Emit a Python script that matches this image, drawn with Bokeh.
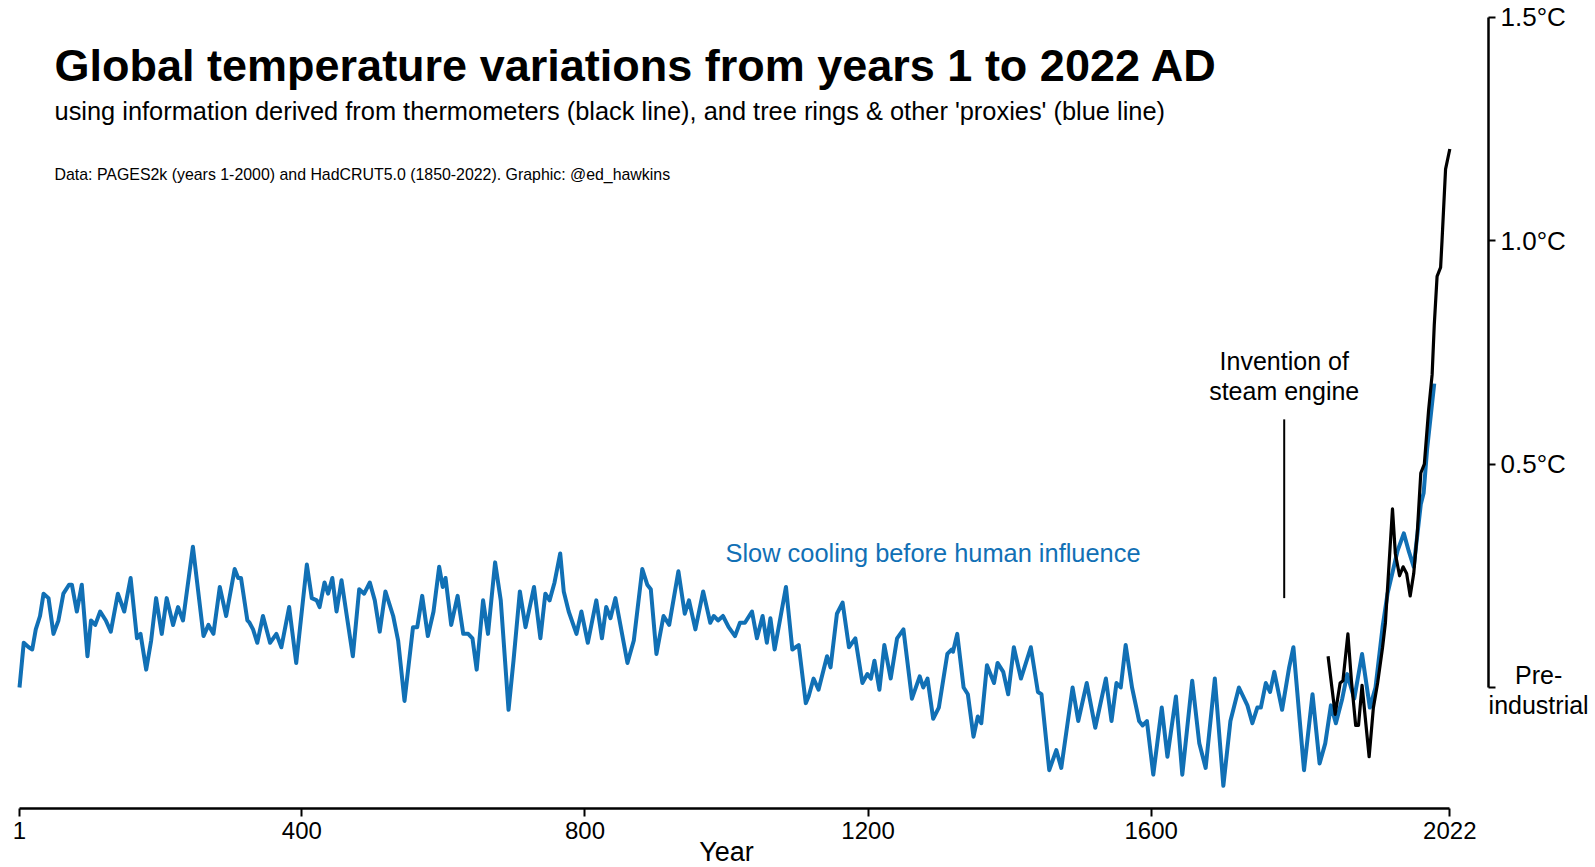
from bokeh.plotting import figure
from bokeh.models import Range1d, FixedTicker, Label, ColumnDataSource
from bokeh.embed import file_html
from bokeh.resources import INLINE

# ---------------- data ----------------
proxy_years = [1, 7, 14, 19, 24, 30, 35, 42, 49, 56, 63, 71, 75, 82, 89, 97, 102, 108, 115, 123,
               130, 140, 149, 158, 167, 172, 180, 187, 194, 202, 209, 218, 225, 232, 246, 261, 268,
               275, 284, 293, 305, 310, 314, 323, 326, 331, 337, 345, 355, 364, 371, 382, 392, 407,
               414, 421, 425, 432, 437, 443, 449, 456, 463, 472, 481, 488, 496, 503, 510, 518, 529,
               536, 545, 557, 563, 570, 578, 586, 594, 599, 603, 611, 620, 628, 635, 641, 647, 656,
               663, 673, 681, 692, 699, 708, 716, 728, 737, 744, 750, 757, 765, 770, 777, 788, 795,
               804, 816, 824, 830, 836, 843, 860, 869, 881, 888, 893, 901, 911, 919, 932, 941, 947,
               956, 967, 977, 982, 988, 995, 1003, 1012, 1019, 1026, 1036, 1043, 1051, 1057, 1062,
               1068, 1084, 1093, 1102, 1112, 1116, 1123, 1130, 1142, 1147, 1156, 1164, 1173, 1182,
               1192, 1199, 1204, 1209, 1216, 1223, 1232, 1241, 1250, 1262, 1273, 1278, 1284, 1292,
               1300, 1312, 1318, 1320, 1326, 1335, 1341, 1349, 1355, 1360, 1368, 1378, 1383, 1391,
               1398, 1406, 1416, 1430, 1440, 1445, 1456, 1466, 1473, 1489, 1497, 1509, 1521, 1536,
               1544, 1551, 1557, 1564, 1573, 1583, 1588, 1594, 1603, 1615, 1623, 1635, 1644, 1658,
               1668, 1677, 1690, 1702, 1712, 1724, 1736, 1743, 1750, 1755, 1762, 1768, 1774, 1785,
               1795, 1801, 1816, 1828, 1838, 1846, 1854, 1861, 1870, 1877, 1887, 1898, 1909, 1917,
               1927, 1934, 1948, 1957, 1964, 1971, 1981, 1985, 1990, 2000]
proxy_temps = [0.00, 0.10, 0.09, 0.085, 0.13, 0.16, 0.21, 0.20, 0.12, 0.15, 0.21, 0.23, 0.23, 0.17,
               0.23, 0.07, 0.15, 0.14, 0.17, 0.15, 0.125, 0.21, 0.17, 0.245, 0.11, 0.12, 0.04, 0.105,
               0.20, 0.12, 0.20, 0.14, 0.18, 0.15, 0.315, 0.115, 0.14, 0.12, 0.225, 0.16, 0.265,
               0.245, 0.245, 0.15, 0.145, 0.13, 0.10, 0.16, 0.10, 0.12, 0.09, 0.18, 0.055, 0.275,
               0.20, 0.195, 0.18, 0.235, 0.21, 0.245, 0.17, 0.24, 0.165, 0.07, 0.22, 0.21, 0.235,
               0.195, 0.125, 0.215, 0.16, 0.105, -0.03, 0.135, 0.135, 0.205, 0.115, 0.17, 0.27,
               0.225, 0.245, 0.14, 0.205, 0.12, 0.12, 0.11, 0.04, 0.195, 0.12, 0.28, 0.195, -0.05,
               0.06, 0.215, 0.135, 0.225, 0.11, 0.21, 0.195, 0.235, 0.30, 0.215, 0.17, 0.12, 0.17,
               0.10, 0.195, 0.11, 0.18, 0.155, 0.20, 0.055, 0.105, 0.265, 0.23, 0.22, 0.075, 0.16,
               0.14, 0.26, 0.165, 0.195, 0.13, 0.215, 0.145, 0.16, 0.15, 0.16, 0.135, 0.115, 0.145,
               0.145, 0.17, 0.11, 0.16, 0.10, 0.155, 0.085, 0.225, 0.085, 0.095, -0.035, -0.02,
               0.02, -0.005, 0.07, 0.045, 0.165, 0.19, 0.09, 0.11, 0.01, 0.03, 0.02, 0.06, -0.005,
               0.095, 0.02, 0.11, 0.13, -0.025, 0.025, 0.00, 0.02, -0.07, -0.045, 0.075, 0.085,
               0.08, 0.12, 0.00, -0.015, -0.11, -0.065, -0.08, 0.05, 0.01, 0.055, 0.035, -0.015,
               0.09, 0.02, 0.09, -0.01, -0.015, -0.185, -0.14, -0.18, 0.00, -0.075, 0.01, -0.09,
               0.02, -0.075, 0.01, 0.00, 0.095, 0.00, -0.075, -0.085, -0.075, -0.195, -0.045,
               -0.155, -0.02, -0.195, 0.015, -0.125, -0.18, 0.02, -0.22, -0.075, 0.00, -0.04, -0.08,
               -0.045, -0.045, 0.01, -0.01, 0.035, -0.05, 0.045, 0.09, -0.185, -0.015, -0.17,
               -0.125, -0.04, -0.08, -0.025, 0.03, -0.025, 0.075, -0.045, 0.00, 0.135, 0.21, 0.305,
               0.345, 0.305, 0.27, 0.41, 0.435, 0.535, 0.68]

thermo_years = [1850, 1860, 1867, 1871, 1878, 1883, 1889, 1893, 1898, 1908, 1914, 1920, 1927, 1931,
                1941, 1945, 1951, 1956, 1961, 1966, 1971, 1976, 1981, 1986, 1992, 1997, 2000, 2004,
                2009, 2011, 2016, 2022]
thermo_temps = [0.07, -0.06, 0.01, 0.015, 0.12, 0.015, -0.085, -0.085, 0.005, -0.155, -0.045, 0.01,
                0.09, 0.145, 0.40, 0.30, 0.25, 0.27, 0.255, 0.205, 0.255, 0.345, 0.48, 0.50, 0.62,
                0.70, 0.81, 0.92, 0.94, 1.00, 1.16, 1.205]

x_ticks = [1, 400, 800, 1200, 1600, 2022]
y_ticks = [0, 0.5, 1.0, 1.5]
y_tick_labels = {0: "", 0.5: "0.5\u00b0C", 1: "1.0\u00b0C", 1.5: "1.5\u00b0C"}
steam_year = 1788

BLUE = "#1170b5"
FONT = "Liberation Sans"

# ---------------- figure ----------------
# the frame fills the whole canvas; the axes are pinned with fixed_location
p = figure(width=1591, height=867, output_backend="svg", toolbar_location=None,
           x_range=Range1d(-25.85, 2222.2), y_range=Range1d(-0.4028, 1.5373),
           x_axis_location="below", y_axis_location="right",
           min_border_left=0, min_border_top=0, min_border_right=0, min_border_bottom=0)
p.outline_line_color = None
p.grid.visible = False
p.background_fill_color = "white"
p.border_fill_color = "white"

# x axis
xa = p.xaxis[0]
xa.fixed_location = -0.2708
xa.ticker = FixedTicker(ticks=x_ticks)
xa.bounds = (1, 2022)
xa.axis_line_width = 2.5
xa.axis_line_color = "black"
xa.major_tick_out = 8
xa.major_tick_in = 0
xa.major_tick_line_width = 2
xa.minor_tick_line_color = None
xa.major_label_text_font = FONT
xa.major_label_text_font_size = "24px"
xa.major_label_text_color = "black"
xa.major_label_standoff = 5

# y axis
ya = p.yaxis[0]
ya.fixed_location = 2076.7
ya.ticker = FixedTicker(ticks=y_ticks)
ya.bounds = (0, 1.5)
ya.axis_line_width = 2.5
ya.axis_line_color = "black"
ya.major_tick_out = 7
ya.major_tick_in = 0
ya.major_tick_line_width = 2
ya.minor_tick_line_color = None
ya.major_label_overrides = y_tick_labels
ya.major_label_text_font = FONT
ya.major_label_text_font_size = "26px"
ya.major_label_text_color = "black"
ya.major_label_standoff = 5

# lines
proxy_src = ColumnDataSource(dict(x=proxy_years, y=proxy_temps))
thermo_src = ColumnDataSource(dict(x=thermo_years, y=thermo_temps))
p.line("x", "y", source=proxy_src, line_color=BLUE, line_width=4, line_join="round")
p.line("x", "y", source=thermo_src, line_color="black", line_width=3.2, line_join="round")

# steam engine marker
p.segment(x0=[steam_year], y0=[0.20], x1=[steam_year], y1=[0.60], line_color="black", line_width=2)

def add_label(x, y, text, size, color="black", style="normal", align="left"):
    p.add_layout(Label(x=x, y=y, text=text, text_font=FONT, text_font_size=size,
                       text_color=color, text_font_style=style, text_align=align,
                       text_baseline="alphabetic"))

add_label(50.5, 1.392, "Global temperature variations from years 1 to 2022 AD", "45px", style="bold")
add_label(50.5, 1.289, "using information derived from thermometers (black line), and tree rings & other 'proxies' (blue line)", "25.4px")
add_label(50.5, 1.149, "Data: PAGES2k (years 1-2000) and HadCRUT5.0 (1850-2022). Graphic: @ed_hawkins", "15.9px")
add_label(998.6, 0.300, "Slow cooling before human influence", "25.4px", color=BLUE)
add_label(steam_year, 0.7316, "Invention of", "25px", align="center")
add_label(steam_year, 0.6644, "steam engine", "25px", align="center")
add_label(2147.5, 0.029, "Pre-", "25px", align="center")
add_label(2147.5, -0.040, "industrial", "25px", align="center")
add_label(1000, -0.3680, "Year", "27px", align="center")

open("out.html", "w").write(file_html(p, INLINE))
